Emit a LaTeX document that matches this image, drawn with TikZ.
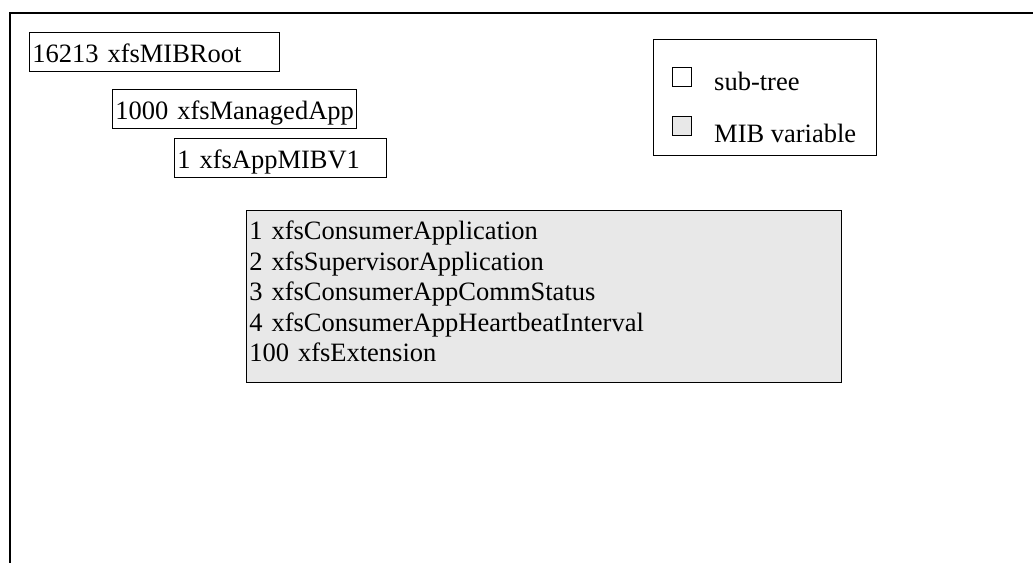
\documentclass[tikz,border=0pt]{standalone}
\usepackage{fontspec}
\setmainfont{Liberation Serif}
\definecolor{varfill}{HTML}{E8E8E8}
\tikzset{
  treebox/.style={draw, line width=.9pt, anchor=north west, inner xsep=3pt, inner ysep=0pt,
    text height=30pt, text depth=9pt, align=left},
  keybox/.style={draw, line width=.9pt, minimum size=19pt, inner sep=0pt},
  keytext/.style={anchor=base west, inner sep=0pt},
}
\begin{document}
\begin{tikzpicture}[x=1pt,y=-1pt,font=\fontsize{26.5}{30.5}\selectfont]
	\useasboundingbox (0,0) rectangle (1033,563);
	\draw[line width=1.4pt] (1033,13)-- (10,13)-- (10,563);
	% tree nodes
	\node[treebox,text width=244pt] (root) at (29,32) {\mbox{16213 xfsMIBRoot}};
	\node[treebox,text width=238pt] (managed) at (112,89) {\mbox{1000 xfsManagedApp}};
	\node[treebox,text width=206pt] (appmib) at (174,138) {\mbox{1 xfsAppMIBV1}};
	\node[draw,line width=.9pt,fill=varfill,anchor=north west,text width=589pt,
		minimum height=172pt,inner xsep=3pt,align=left] (vars) at (246,210)
		{1 xfsConsumerApplication\\
		2 xfsSupervisorApplication\\
		3 xfsConsumerAppCommStatus\\
		4 xfsConsumerAppHeartbeatInterval\\
		100 xfsExtension\rule[-10pt]{0pt}{1pt}};
	% legend
	\node[draw,line width=.9pt,anchor=north west,minimum width=223pt,minimum height=116pt] (legend) at (653,39) {};
	\node[keybox] (keytree) at (681.5,77) {};
	\node[keybox,fill=varfill] (keyvar) at (681.5,125.5) {};
	\node[keytext] (treetext) at (714,90) {sub-tree};
	\node[keytext] (vartext) at (714,142) {MIB variable};
\end{tikzpicture}
\end{document}
